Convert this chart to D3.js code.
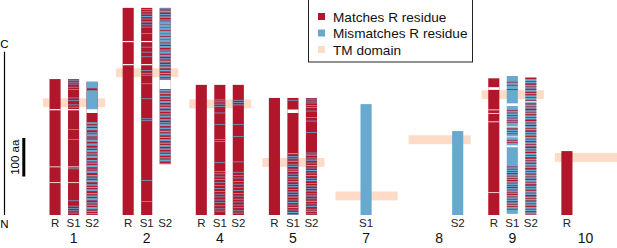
<!DOCTYPE html>
<html><head><meta charset="utf-8">
<script src="https://cdn.jsdelivr.net/npm/d3@7"></script>
<style>
html,body{margin:0;padding:0;background:#fff;}
svg{display:block;font-family:"Liberation Sans",Arial,Helvetica,sans-serif;}
</style></head>
<body><svg id="c" width="617" height="248"></svg>
<script>
// ---------------- data ----------------
const genes = ["1","2","4","5","7","8","9","10"];
const strains = ["R","S1","S2"];
const legendLabels = ["Matches R residue","Mismatches R residue","TM domain"];

// TM domains (aa)
const tmGene  = ["1","2","4","5","7","8","9","10"];
const tmStart = [280, 358, 277, 125, 38, 184, 301, 138];
const tmEnd   = [303, 381, 300, 148, 61, 207, 324, 161];

// Bars: residue span, base state, gaps, and runs of the opposite state
// base "m" = matches R (runs = mismatches), base "x" = mismatches R (runs = matches)
const bars = [
 {gene:"1", strain:"R",  start:0, end:353, base:"m", gaps:[[272,275],[124,126],[83,85]], runs:[]},
 {gene:"1", strain:"S1", start:0, end:353, base:"m", gaps:[[272,275],[124,126],[83,85]],
  runs:[[349,351],[344,346],[339,341],[331,333],[325,327],[303,305],[296,298],[285,287],[279,281],[221,223],[195,197],[119,121],[36,38],[22,24],[16,18],[10,12],[4,6]]},
 {gene:"1", strain:"S2", start:0, end:346, base:"m", gaps:[[265,275]],
  runs:[[329,346],[275,324],[236,241],[229,233],[220,226],[212,215],[204,210],[199,201],[190,196],[180,186],[172,175],[163,169],[157,160],[148,154],[139,143],[133,136],[124,130],[118,120],[109,115],[100,104],[94,97],[85,91],[76,80],[70,73],[62,67],[54,57],[47,51],[38,44],[30,33],[24,27],[15,21],[8,11],[2,5]]},

 {gene:"2", strain:"R",  start:0, end:538, base:"m", gaps:[[449,452],[389,392]], runs:[]},
 {gene:"2", strain:"S1", start:0, end:538, base:"m", gaps:[[449,452],[389,392]],
  runs:[[533,535],[527,529],[521,523],[514,517],[508,510],[500,503],[493,495],[487,489],[470,472],[435,437],[422,424],[410,412],[374,376],[367,369],[362,364],[340,342],[301,303],[249,251],[244,246],[89,91],[34,36]]},
 {gene:"2", strain:"S2", start:132, end:538, base:"m", gaps:[[327,351]],
  runs:[[534,537],[526,531],[519,522],[512,516],[505,508],[496,503],[487,495],[480,486],[471,478],[465,470],[456,463],[448,455],[442,446],[434,439],[427,430],[419,425],[411,416],[404,407],[396,401],[389,392],[381,386],[373,377],[366,369],[358,363],[352,355],
        [321,325],[314,318],[306,310],[299,302],[291,296],[284,287],[276,281],[268,272],[261,264],[253,258],[245,249],[238,241],[231,236],[223,227],[215,219],[207,212],[200,203],[192,197],[185,188],[177,182],[169,173],[162,165],[154,159],[147,150],[139,144],[133,135]]},

 {gene:"4", strain:"R",  start:0, end:338, base:"m", gaps:[], runs:[]},
 {gene:"4", strain:"S1", start:0, end:338, base:"m", gaps:[],
  runs:[[298,300],[293,295],[287,289],[281,283],[264,266],[234,236],[195,197],[190,192],[135,137],[112,114],[106,108],[98,100],[91,93],[83,85],[76,78],[68,70],[60,62],[53,55],[46,48],[38,40],[31,33],[23,25],[15,17],[9,11]]},
 {gene:"4", strain:"S2", start:0, end:338, base:"m", gaps:[],
  runs:[[297,299],[291,293],[285,287],[234,236],[203,205],[137,139],[110,112],[102,104],[95,97],[86,88],[79,81],[71,73],[63,65],[55,57],[48,50],[40,42],[33,35],[25,27],[18,20],[10,12],[4,6]]},

 {gene:"5", strain:"R",  start:0, end:304, base:"m", gaps:[], runs:[]},
 {gene:"5", strain:"S1", start:0, end:304, base:"m", gaps:[[265,274]],
  runs:[[297,299],[158,161],[150,153],[145,147],[138,141],[131,133],[125,128],[118,120],[112,115],[105,107],[98,101],[92,94],[85,88],[78,80],[72,75],[65,67],[58,61],[52,54],[45,48],[38,40],[31,34],[25,27],[18,21],[12,14],[5,8],[0,2]]},
 {gene:"5", strain:"S2", start:0, end:304, base:"m", gaps:[],
  runs:[[300,302],[295,297],[290,292],[283,285],[278,280],[269,271],[252,254],[243,245],[213,215],[160,162],[154,157],[147,149],[141,144],[134,136],[127,130],[121,123],[114,117],[108,110],[101,104],[94,96],[88,91],[81,83],[74,77],[68,70],[61,64],[54,56],[48,51],[41,43],[34,37],[28,30],[21,24],[14,16],[8,11],[2,4]]},

 {gene:"7", strain:"S1", start:0, end:288, base:"x", gaps:[], runs:[]},
 {gene:"8", strain:"S2", start:0, end:218, base:"x", gaps:[], runs:[]},

 {gene:"9", strain:"R",  start:0, end:355, base:"m", gaps:[[325,332],[272,274],[263,265],[241,243],[57,59]], runs:[]},
 {gene:"9", strain:"S1", start:3, end:361, base:"x", gaps:[[283,290],[228,230],[202,204],[176,181]],
  runs:[[344,346],[336,338],[325,327],[270,272],[264,266],[257,259],[251,253],[245,247],[240,242],[222,225],[216,218],[210,212],[193,195],[187,189],[124,126],[118,120],[112,114],[106,109],[100,102],[94,96],[88,91],[82,84],[76,78],[70,73],[64,66],[58,60],[52,55],[46,48],[40,42],[33,36],[27,29],[21,23],[14,16]]},
 {gene:"9", strain:"S2", start:1, end:358, base:"x", gaps:[[293,295]],
  runs:[[353,356],[346,348],[338,342],[332,334],[325,328],[317,320],[311,314],[304,306],[297,299],[287,290],[280,282],[272,276],[266,268],[259,262],[252,254],[244,248],[238,240],[231,234],[224,226],[216,220],[210,212],[203,206],[196,198],[189,192],[182,184],[174,178],[168,170],[161,164],[154,156],[146,150],[140,142],[133,136],[126,128],[118,122],[112,114],[105,108],[98,100],[91,94],[84,86],[76,80],[70,72],[63,66],[56,58],[48,52],[42,44],[35,38],[28,30],[21,24],[14,16],[7,10],[1,3]]},

 {gene:"10", strain:"R", start:0, end:166, base:"m", gaps:[], runs:[]}
];

// ---------------- drawing ----------------
const RED = "#b2182b", BLUE = "#67a9cf", TM = "#fddbc7";
const svg = d3.select("#c");

// slight vertical softening, like the printed figure
const defs = svg.append("defs");
defs.append("filter").attr("id","soft")
  .attr("x","-5%").attr("y","-2%").attr("width","110%").attr("height","104%")
  .append("feGaussianBlur").attr("stdDeviation","0.25 0.45");

const y = d3.scaleLinear().domain([0, 560]).range([215, 215 - 560*0.385]);
const xg = d3.scaleBand().domain(genes).range([37, 622]);
const xs = d3.scaleBand().domain(strains).range([0, xg.bandwidth()])
  .paddingInner(0.4).paddingOuter(0.675);

// TM domains behind bars
svg.append("g").selectAll("rect").data(tmGene).join("rect")
  .attr("x", g => xg(g) + 6)
  .attr("width", xg.bandwidth() - 11)
  .attr("y", (g,i) => y(tmEnd[i]))
  .attr("height", (g,i) => y(tmStart[i]) - y(tmEnd[i]))
  .attr("fill", TM);

const bw = xs.bandwidth();
const bg = svg.append("g").selectAll("g").data(bars).join("g")
  .attr("transform", d => `translate(${xg(d.gene) + xs(d.strain)},0)`)
  .attr("filter", "url(#soft)");

bg.append("rect")
  .attr("x", 0).attr("width", bw)
  .attr("y", d => y(d.end)).attr("height", d => y(d.start) - y(d.end))
  .attr("fill", d => d.base === "m" ? RED : BLUE);

bg.each(function(d){
  const g = d3.select(this);
  g.selectAll("rect.run").data(d.runs).join("rect").attr("class","run")
    .attr("x", 0).attr("width", bw)
    .attr("y", r => y(r[1])).attr("height", r => y(r[0]) - y(r[1]))
    .attr("fill", d.base === "m" ? BLUE : RED);
  g.selectAll("rect.gap").data(d.gaps).join("rect").attr("class","gap")
    .attr("x", 0).attr("width", bw)
    .attr("y", r => y(r[1])).attr("height", r => y(r[0]) - y(r[1]))
    .attr("fill", "#fff");
});

// strain labels
svg.append("g").selectAll("text").data(bars).join("text")
  .attr("x", d => xg(d.gene) + xs(d.strain) + bw/2)
  .attr("y", 227)
  .attr("text-anchor", "middle")
  .attr("font-size", 11.5)
  .attr("fill", "#222")
  .text(d => d.strain);

// gene labels
svg.append("g").selectAll("text").data(genes).join("text")
  .attr("x", g => xg(g) + xg.bandwidth()/2)
  .attr("y", 243)
  .attr("text-anchor", "middle")
  .attr("font-size", 14)
  .attr("fill", "#111")
  .text(g => g);

// N–C axis
svg.append("line").attr("x1", 4.5).attr("x2", 4.5)
  .attr("y1", y(0)).attr("y2", y(424))
  .attr("stroke", "#000").attr("stroke-width", 1.2);
svg.append("text").attr("x", 4.5).attr("y", y(424) - 4).attr("text-anchor","middle")
  .attr("font-size", 11.5).text("C");
svg.append("text").attr("x", 4.5).attr("y", y(0) + 13).attr("text-anchor","middle")
  .attr("font-size", 11.5).text("N");

// scale bar 100 aa
svg.append("rect").attr("x", 22.3).attr("width", 3)
  .attr("y", y(200)).attr("height", y(100) - y(200)).attr("fill", "#000");
svg.append("text")
  .attr("transform", `translate(18.5,${(y(100)+y(200))/2}) rotate(-90)`)
  .attr("text-anchor", "middle").attr("font-size", 11.5).text("100 aa");

// legend
const lg = svg.append("g");
lg.append("rect").attr("x", 308.5).attr("y", -1).attr("width", 164).attr("height", 63)
  .attr("fill", "#fff").attr("stroke", "#222").attr("stroke-width", 1);
const legendColors = [RED, BLUE, TM];
const li = lg.selectAll("g.it").data(legendLabels).join("g").attr("class","it")
  .attr("transform", (d,i) => `translate(318,${16.5 + i*16.5})`);
li.append("rect").attr("x", 0).attr("y", -3.5).attr("width", 7).attr("height", 7)
  .attr("fill", (d,i) => legendColors[i]);
li.append("text").attr("x", 15).attr("y", 5).attr("font-size", 13.6).attr("fill","#111")
  .text(d => d);
</script>
</body></html>
